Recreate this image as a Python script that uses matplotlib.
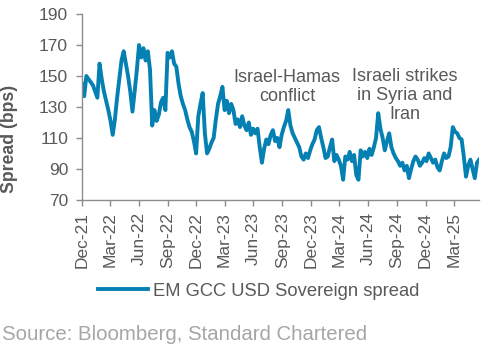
import matplotlib
matplotlib.use("Agg")
import matplotlib.pyplot as plt
import pandas as pd

plt.rcParams['font.family'] = ['Liberation Sans', 'DejaVu Sans']

start_date = "2021-12-01"
spread = [
    145, 137, 150, 148, 146, 144, 140, 136, 158, 148,
    140, 134, 128, 121, 112, 122, 136, 148, 160, 166,
    158, 150, 140, 127, 140, 154, 170, 162, 168, 160,
    166, 154, 118, 128, 121, 125, 133, 136, 128, 165,
    162, 166, 158, 156, 145, 137, 132, 128, 122, 117,
    114, 108, 100, 124, 132, 139, 113, 100, 103, 107,
    110, 122, 132, 137, 143, 128, 134, 126, 132, 128,
    119, 122, 117, 124, 118, 115, 120, 112, 116, 113,
    116, 104, 94, 103, 109, 106, 112, 115, 108, 110,
    104, 112, 117, 121, 128, 118, 113, 110, 107, 104,
    98, 96, 100, 97, 102, 106, 109, 115, 117, 110,
    104, 97, 98, 104, 109, 95, 99, 96, 92, 83,
    98, 96, 101, 95, 99, 86, 83, 102, 98, 101,
    97, 103, 99, 104, 110, 126, 116, 110, 102, 108,
    113, 104, 100, 97, 95, 92, 94, 89, 92, 84,
    90, 95, 98, 96, 92, 94, 97, 95, 100, 97,
    94, 96, 91, 89, 95, 100, 97, 98, 104, 117,
    114, 113, 110, 109, 98, 85, 92, 96, 90, 84,
    94, 96,
]
series_label = "EM GCC USD Sovereign spread"
y_label = "Spread (bps)"
y_ticks = [70, 90, 110, 130, 150, 170, 190]
annotations = [
    ("Israel-Hamas\nconflict", "2023-09-16", 143),
    ("Israeli strikes\nin Syria and\nIran", "2024-09-26", 137.5),
]
source_text = "Source: Bloomberg, Standard Chartered"

dates = pd.date_range(start_date, periods=len(spread), freq="7D")

line_color = "#0580B3"
text_gray = "#595959"
axis_gray = "#8C8C8C"

fig = plt.figure(figsize=(5.03, 3.44), dpi=100)
ax = fig.add_axes([0.163, 0.419, 0.789, 0.540])
ax.plot(dates, spread, color=line_color, lw=2.8, solid_joinstyle='round',
        label=series_label)

ax.set_ylim(70, 190)
ax.set_yticks(y_ticks)
ax.set_xlim(pd.Timestamp("2021-12-01"), pd.Timestamp("2025-05-20"))
tick_dates = pd.date_range("2021-12-01", "2025-03-01", freq="3MS")
ax.set_xticks(tick_dates)
ax.set_xticklabels([d.strftime("%b-%y") for d in tick_dates], rotation=90)

for s in ["top", "right"]:
    ax.spines[s].set_visible(False)
for s in ["left", "bottom"]:
    ax.spines[s].set_color(axis_gray)
    ax.spines[s].set_linewidth(1.0)
ax.tick_params(axis="both", colors=axis_gray, labelcolor=text_gray,
               labelsize=12.5, length=4, width=1.0, direction="out")
ax.tick_params(axis="y", pad=6)
ax.tick_params(axis="x", pad=5)
ax.set_ylabel(y_label, fontsize=12.7, fontweight="bold", color=text_gray)
ax.yaxis.set_label_coords((18 - 82) / 397, (200 - 139) / 186)

for txt, d, v in annotations:
    ax.text(pd.Timestamp(d), v, txt, ha="center", va="center",
            fontsize=13, color=text_gray, linespacing=1.15)

fig.legend(loc="center", bbox_to_anchor=(259 / 503, 1 - 291 / 344),
           frameon=False, fontsize=13.2, labelcolor=text_gray,
           handlelength=2.7, handletextpad=0.3)

fig.text(2 / 503, 1 - 335 / 344, source_text, ha="left", va="center",
         fontsize=14.7, color="#A6A6A6")

fig.savefig("out.png", dpi=100)
